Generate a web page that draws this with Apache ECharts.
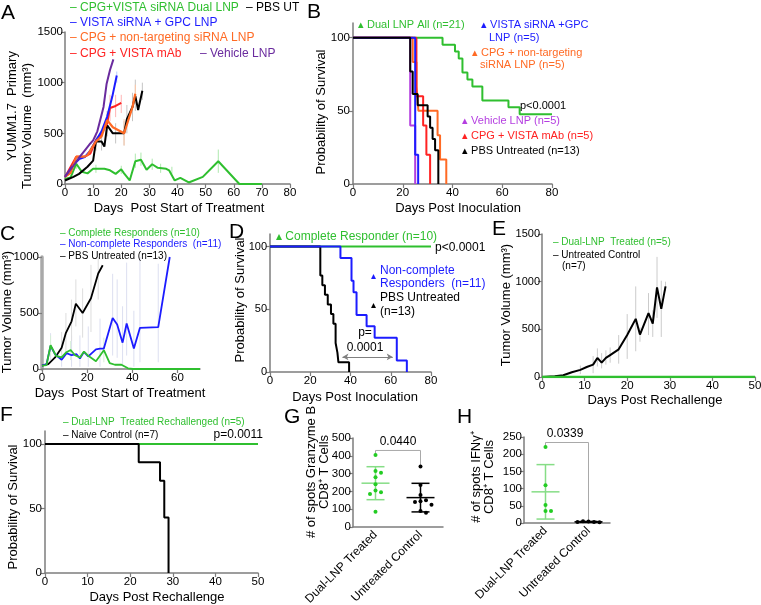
<!DOCTYPE html>
<html><head><meta charset="utf-8">
<script src="https://cdn.jsdelivr.net/npm/echarts@6/dist/echarts.min.js"></script>
<style>html,body{margin:0;padding:0;background:#fff}#c{width:761px;height:605px}</style>
</head><body><div id="c"></div>
<script>
// ---------------- DATA ----------------
// Panel A: tumour volume (mm3) vs days post start of treatment
const aGreenDays  = [0,2,4,6,8,10,14,16,18,20,21,23,25,27,29,31,33,36,37,39,41,44,49,54.5,62,70];
const aGreenVals  = [50,65,200,120,105,150,150,135,100,145,105,35,225,240,140,195,160,150,135,35,60,15,70,225,0,0];
const aBlackDays  = [0,3,5,8,10,11,13,14,15,17,20,21,22,24,25,26,27.5];
const aBlackVals  = [35,70,100,170,230,420,420,370,580,500,500,500,640,760,870,730,920];
const aOrangeDays = [0,2,4,7,8,11,13,15,17,19,21,24,25];
const aOrangeVals = [70,110,270,270,285,420,470,630,560,530,500,760,890];
const aBlueDays   = [0,3,5,7,9,11,13,15,16.8,18.4];
const aBlueVals   = [70,190,245,265,330,430,520,665,860,1070];
const aRedDays    = [0,4,7,9,11,13,15,16,18,20];
const aRedVals    = [70,270,270,300,430,500,600,750,770,800];
const aPurpleDays = [0,3,5,7,9,10,11.5,12.5,13.7,14.8,16,17.2];
const aPurpleVals = [70,180,260,330,400,430,520,630,760,990,1125,1230];
// error bars [day, low, high]
const aErrGreen  = [[4,150,260],[11,110,190],[20,100,180],[25,160,300],[27,180,310],[31,140,250],[34,110,200],[38,100,170],[54.5,110,340]];
const aErrBlack  = [[11,330,500],[13,330,480],[15,470,690],[18,400,600],[21,380,620],[22,500,780],[24,620,900],[25,720,1030],[27.5,830,1000]];
const aErrRed    = [[16,620,880],[18,660,880],[20,700,880]];
const aErrOrange = [[15,540,720],[21,380,640],[25,800,980]];
const aErrBlue   = [[15,600,720],[18.4,1000,1110]];

// Panel B: survival [day, %]
const bGreen  = [[0,100],[36,95.2],[41,90.5],[42.5,85.7],[44,76.2],[46,71.4],[48,66.7],[52,57.1],[62.5,52.4],[67,47.6],[80,47.6]];
const bBlue   = [[0,100],[25,20],[26.2,0]];
const bPurple = [[0,100],[23,40],[25,0]];
const bRed    = [[0,100],[25.5,60],[28.2,40],[29.5,20],[31,0]];
const bOrange = [[0,100],[24,83.3],[25.5,66.7],[26.3,50],[34,33.3],[35,16.7],[37.5,0]];
const bBlack  = [[0,100],[23,76.9],[24,61.5],[26,53.8],[30,46.2],[31,38.5],[32,30.8],[33,23.1],[34.3,0]];

// Panel C
const cGreenDays = [0,2,3.8,6.2,8.7,10.6,12.7,14.6,16.8,18.6,20.5,23.9,27.4,30,32.3,35.2,38.1,40.3,70];
const cGreenVals = [30,35,212,118,103,147,170,123,103,156,118,70,168,53,38,38,6,0,0];
const cBlueDays  = [0,2,3.8,5.8,8.7,10.9,13.1,15.3,16.8,18.6,20.5,23.9,25.7,27.4,31.3,33.3,35.7,37.5,40.7,43.4,51.5,56.6];
const cBlueVals  = [30,44,206,132,82,141,123,132,94,153,112,176,182,182,456,397,235,406,182,368,373,1000];
const cBlackDays = [0,2.8,5.8,8.7,10.6,13.1,15,18,21.7,24.9,26.9];
const cBlackVals = [30,44,103,190,323,426,582,500,632,853,926];
const cErrBlue  = [[3.8,80,320],[8.7,20,250],[13.1,20,300],[16.8,20,300],[20.5,20,380],[25.7,20,450],[31.3,120,850],[33.3,100,800],[35.7,40,560],[37.5,120,950],[40.7,20,520],[43.4,60,1000],[51.5,60,940]];
const cErrBlack = [[8.7,100,330],[10.6,150,500],[13.1,250,620],[15,380,800],[18,280,720],[21.7,330,930],[24.9,620,1000]];
const cErrGreen = [[3.8,120,300],[12.7,80,250],[27.4,60,280]];

// Panel D: survival
const dGreen = [[0,100],[80,100]];
const dBlue  = [[0,100],[35,90.9],[40.5,72.7],[41.5,63.6],[43,45.5],[48,36.4],[52,27.3],[63,9.1],[68,0]];
const dBlack = [[0,100],[25,76.9],[26,69.2],[27.3,61.5],[28.7,53.8],[30.3,46.2],[31.5,38.5],[32.6,23.1],[33.5,15.4],[34,7.7],[39.3,0]];
const dArrow = [36, 61, 12]; // from day, to day, at %

// Panel E
const eBlackDays = [0,3,5,7,9,10.5,12,13,14,15,16,18,20,22,23,25,26,27,28,29];
const eBlackVals = [0,8,18,50,75,105,130,200,150,200,230,290,440,610,445,670,560,940,715,950];
const eGreenDays = [0,50];
const eGreenVals = [0,0];
const eErr = [[9,30,120],[12,40,220],[13,110,300],[14,90,250],[15,130,280],[16,150,310],[18,140,440],[20,190,660],[22,270,950],[23,370,520],[25,440,880],[26,420,700],[27,620,1260],[28,420,1010],[29,900,1000]];

// Panel F
const fGreen = [[0,100],[50,100]];
const fBlack = [[0,100],[22,85.7],[27,71.4],[28,42.9],[29,0]];

// Panels G, H
const ghCategories = ['Dual-LNP Treated','Untreated Control'];
const gGreen = [405,315,305,280,240,205,195,185,85];
const gBlack = [340,236,180,150,145,140,125,90,80];
const hGreen = [221,110,52,35,35];
const hBlack = [4,3,5,2,3];

// ---------------- STYLE ----------------
const FONT = '"Liberation Sans", Arial, Helvetica, sans-serif';
const AX = '#7d7d7d';
const GREEN='#2fbf2f', BLUE='#1c1cff', ORANGE='#ff6a24', RED='#ff2222', PURPLE='#6a2b9e', VIOLET='#b43ee0', BLACK='#000';

const zip = (d,v)=>d.map((x,i)=>[x,v[i]]);
const mean = a=>a.reduce((s,x)=>s+x,0)/a.length;
const sd = a=>{const m=mean(a);return Math.sqrt(a.reduce((s,x)=>s+(x-m)*(x-m),0)/(a.length-1));};

const grids = [
  {left:65, top:32, width:225, height:152},
  {left:353, top:23, width:199, height:161},
  {left:42, top:257, width:158, height:112},
  {left:270, top:234, width:161, height:138},
  {left:542, top:234, width:213, height:143},
  {left:45, top:431, width:213, height:142},
  {left:353, top:438, width:90, height:89},
  {left:524, top:437, width:86, height:86}
].map(g=>Object.assign(g,{containLabel:false, outerBoundsMode:'none'}));

function ax(type, gi, o){
  const a = {type, gridIndex:gi,
    axisLine:{show:true, onZero:false, lineStyle:{color:AX, width:1.5}},
    axisTick:{show:true, inside:false, length:4, lineStyle:{color:AX, width:1.2}},
    axisLabel:{color:'#000', fontSize:11.5, fontFamily:FONT, margin:3},
    splitLine:{show:false}};
  if(type==='value') a.axisLabel.formatter = v=>String(v);
  if(o){ for(const k in o){ if(typeof o[k]==='object' && !Array.isArray(o[k]) && a[k]) Object.assign(a[k],o[k]); else a[k]=o[k]; } }
  return a;
}
const km = [0,50,100];
const xAxis = [
  ax('value',0,{min:0,max:80,interval:10}),
  ax('value',1,{min:0,max:80,interval:20}),
  ax('value',2,{min:0,max:70,interval:20,axisLabel:{customValues:[0,20,40,60]},axisTick:{customValues:[0,20,40,60]}}),
  ax('value',3,{min:0,max:80,interval:20}),
  ax('value',4,{min:0,max:50,interval:10}),
  ax('value',5,{min:0,max:50,interval:10}),
  ax('category',6,{data:ghCategories,axisTick:{show:false},axisLabel:{rotate:45,interval:0,margin:6,fontSize:12}}),
  ax('category',7,{data:ghCategories,axisTick:{show:false},axisLabel:{rotate:45,interval:0,margin:6,fontSize:12}})
];
const yAxis = [
  ax('value',0,{min:0,max:1500,interval:500,axisLabel:{margin:2}}),
  ax('value',1,{min:0,max:110,axisLabel:{customValues:km},axisTick:{customValues:km}}),
  ax('value',2,{min:0,max:1000,interval:500,axisLine:{lineStyle:{color:'#a9a9a9',width:3.5}}}),
  ax('value',3,{min:0,max:110,axisLabel:{customValues:km,fontSize:11},axisTick:{customValues:km}}),
  ax('value',4,{min:0,max:1500,interval:500,axisLabel:{margin:2,fontSize:11}}),
  ax('value',5,{min:0,max:110,axisLabel:{customValues:km},axisTick:{customValues:km}}),
  ax('value',6,{min:0,max:500,interval:100,axisLabel:{margin:2}}),
  ax('value',7,{min:0,max:250,interval:50,axisLabel:{margin:2}})
];

function line(gi, data, color, w, z){
  return {type:'line', xAxisIndex:gi, yAxisIndex:gi, data, symbol:'none', smooth:false,
    lineStyle:{color, width:w||2}, z:z||3, silent:true};
}
function kmLine(gi, data, color, w, z){ const s=line(gi,data,color,w||2,z); s.step='end'; return s; }
function errBars(gi, data, color){
  return {type:'custom', xAxisIndex:gi, yAxisIndex:gi, data, encode:{x:0,y:[1,2]}, z:1, silent:true,
    renderItem:(p,api)=>{const x=api.value(0); const lo=api.coord([x,api.value(1)]), hi=api.coord([x,api.value(2)]);
      return {type:'line', shape:{x1:lo[0],y1:lo[1],x2:hi[0],y2:hi[1]}, style:{stroke:color,lineWidth:1}};}};
}
function swarm(gi, cat, vals, color, r){
  return {type:'custom', xAxisIndex:gi, yAxisIndex:gi, data:vals.map(v=>[cat,v]), encode:{x:0,y:1}, z:6, silent:true,
    renderItem:(p,api)=>{
      const pts = vals.map(v=>api.coord([cat,v]));
      const step = 2*r+1.5, placed=[], offs=[];
      pts.forEach(pt=>{
        const cands=[0]; for(let j=1;j<10;j++){cands.push(j*step,-j*step);}
        let off=0; for(const c of cands){ if(placed.every(q=>Math.hypot(q[0]-c,q[1]-pt[1])>=step)){off=c;break;} }
        placed.push([off,pt[1]]); offs.push(off);
      });
      const pt=pts[p.dataIndex];
      return {type:'circle', shape:{cx:pt[0]+offs[p.dataIndex], cy:pt[1], r}, style:{fill:color}};
    }};
}
function meanSd(gi, cat, vals, color, hm, hc){
  const m=mean(vals), s=sd(vals);
  return {type:'custom', xAxisIndex:gi, yAxisIndex:gi, data:[[cat,m,s]], encode:{x:0,y:1}, z:5, silent:true,
    renderItem:(p,api)=>{
      const c=api.coord([cat,m]), t=api.coord([cat,m+s]), b=api.coord([cat,Math.max(0,m-s)]);
      const st={stroke:color,lineWidth:1.5};
      return {type:'group', children:[
        {type:'line',shape:{x1:c[0]-hm,y1:c[1],x2:c[0]+hm,y2:c[1]},style:st},
        {type:'line',shape:{x1:t[0],y1:t[1],x2:b[0],y2:b[1]},style:st},
        {type:'line',shape:{x1:t[0]-hc,y1:t[1],x2:t[0]+hc,y2:t[1]},style:st},
        {type:'line',shape:{x1:b[0]-hc,y1:b[1],x2:b[0]+hc,y2:b[1]},style:st}]};
    }};
}
function bracket(gi, g, b, pad, drop){
  const top = Math.max(...g, ...b) + pad;
  return {type:'custom', xAxisIndex:gi, yAxisIndex:gi, data:[[0,top]], encode:{x:0,y:1}, z:4, silent:true,
    renderItem:(p,api)=>{
      const p1=api.coord([0,Math.max(...g)+drop]), p2=api.coord([0,top]), p3=api.coord([1,top]), p4=api.coord([1,Math.max(...b)+drop]);
      return {type:'polyline', shape:{points:[p1,p2,p3,p4]}, style:{stroke:'#a9a9a9',lineWidth:1,fill:null}};
    }};
}

const series = [
  // A
  errBars(0,aErrGreen,'#aee8ae'), errBars(0,aErrBlack,'#c4c4c4'), errBars(0,aErrRed,'#ffb4b4'),
  errBars(0,aErrOrange,'#ffcaa8'), errBars(0,aErrBlue,'#bccbff'),
  line(0,zip(aGreenDays,aGreenVals),GREEN,2),
  line(0,zip(aBlackDays,aBlackVals),BLACK,2),
  line(0,zip(aRedDays,aRedVals),RED,2),
  line(0,zip(aBlueDays,aBlueVals),BLUE,2),
  line(0,zip(aOrangeDays,aOrangeVals),ORANGE,2.2),
  line(0,zip(aPurpleDays,aPurpleVals),PURPLE,2),
  // B
  kmLine(1,bGreen,GREEN), kmLine(1,bOrange,ORANGE), kmLine(1,bRed,RED), kmLine(1,bPurple,VIOLET),
  kmLine(1,bBlue,BLUE), kmLine(1,bBlack,BLACK),
  // C
  errBars(2,cErrBlue,'#dcdff0'), errBars(2,cErrBlack,'#dddddd'), errBars(2,cErrGreen,'#d6efd6'),
  line(2,zip(cBlackDays,cBlackVals),BLACK,1.8),
  line(2,zip(cBlueDays,cBlueVals),BLUE,1.8),
  line(2,zip(cGreenDays,cGreenVals),GREEN,1.8),
  // D
  kmLine(3,dGreen,GREEN), kmLine(3,dBlack,BLACK),
  Object.assign(kmLine(3,dBlue,BLUE),{markLine:{silent:true,symbol:['arrow','arrow'],symbolSize:[5,6],
    label:{show:false}, lineStyle:{color:'#808080',width:1,type:'solid'},
    data:[[{coord:[dArrow[0],dArrow[2]]},{coord:[dArrow[1],dArrow[2]]}]]}}),
  // E
  errBars(4,eErr,'#cbcbcb'),
  line(4,zip(eBlackDays,eBlackVals),BLACK,2),
  line(4,zip(eGreenDays,eGreenVals),GREEN,2.5),
  // F
  kmLine(5,fGreen,GREEN), kmLine(5,fBlack,BLACK),
  // G
  meanSd(6,0,gGreen,'#86dd86',14,9), meanSd(6,1,gBlack,BLACK,14,9),
  swarm(6,0,gGreen,'#22cc22',2), swarm(6,1,gBlack,BLACK,2),
  bracket(6,gGreen,gBlack,25,5),
  // H
  meanSd(7,0,hGreen,'#86dd86',14,9), meanSd(7,1,hBlack,BLACK,14,9),
  swarm(7,0,hGreen,'#22cc22',2), swarm(7,1,hBlack,BLACK,2),
  bracket(7,hGreen,hBlack,13,3)
];

// ---------------- TEXT ----------------
function T(x,y,text,o){ o=o||{};
  const st={text, fill:o.color||'#000', font:(o.size||12)+'px '+FONT,
    textAlign:o.align||'left', textVerticalAlign:'middle', align:o.align||'left', verticalAlign:'middle'};
  return {type:'text', x, y, rotation:o.rot||0, style:st, silent:true, z:10};
}
const R = Math.PI/2;
const TRI = '\u25B4 ';
const graphic = [
  // panel letters
  T(1,13,'A',{size:21}), T(307,12,'B',{size:21}), T(0,234,'C',{size:21}), T(229,232,'D',{size:21}),
  T(492,229,'E',{size:21}), T(0,415,'F',{size:21}), T(284,417,'G',{size:21}), T(457,417,'H',{size:21}),
  // A
  T(70,8,'\u2013 CPG+VISTA siRNA Dual LNP',{color:GREEN}), T(246,8,'\u2013 PBS UT'),
  T(70,23,'\u2013 VISTA siRNA + GPC LNP',{color:BLUE}),
  T(70,38,'\u2013 CPG + non-targeting siRNA LNP',{color:ORANGE}),
  T(70,54,'\u2013 CPG + VISTA mAb',{color:RED}), T(200,54,'\u2013 Vehicle LNP',{color:PURPLE}),
  T(12,106,'YUMM1.7  Primary',{rot:R,align:'center',size:13}),
  T(27,126,'Tumor Volume  (mm\u00B3)',{rot:R,align:'center',size:13}),
  T(179,208,'Days  Post Start of Treatment',{align:'center',size:13}),
  // B
  T(358,25,TRI+'Dual LNP All (n=21)',{color:GREEN,size:11}),
  T(481,25,TRI+'VISTA siRNA +GPC',{color:BLUE,size:11}), T(489,38,'LNP (n=5)',{color:BLUE,size:11}),
  T(472,53,TRI+'CPG + non-targeting',{color:ORANGE,size:11}), T(480,65,'siRNA LNP (n=5)',{color:ORANGE,size:11}),
  T(462,121,TRI+'Vehicle LNP (n=5)',{color:VIOLET,size:11}),
  T(462,136,TRI+'CPG + VISTA mAb (n=5)',{color:RED,size:11}),
  T(462,151,TRI+'PBS Untreated (n=13)',{size:11}),
  T(520,106,'p<0.0001',{size:11}),
  T(321,112,'Probability of Survival',{rot:R,align:'center',size:13}),
  T(458,208,'Days Post Inoculation',{align:'center',size:13}),
  // C
  T(60,233,'\u2013 Complete Responders (n=10)',{color:GREEN,size:10}),
  T(60,244,'\u2013 Non-complete Responders  (n=11)',{color:BLUE,size:10}),
  T(60,256,'\u2013 PBS Untreated (n=13)',{size:10}),
  T(7,312,'Tumor Volume (mm\u00B3)',{rot:R,align:'center',size:13}),
  T(120,393,'Days  Post Start of Treatment',{align:'center',size:13}),
  // D
  T(276,237,TRI+'Complete Responder (n=10)',{color:GREEN,size:12}),
  T(435,248,'p<0.0001',{size:12}),
  T(371,276,'\u25B4',{color:BLUE,size:10}), T(380,271,'Non-complete',{color:BLUE,size:12}),
  T(380,284,'Responders  (n=11)',{color:BLUE,size:12}),
  T(371,305,'\u25B4',{size:10}), T(380,298,'PBS Untreated',{size:12}), T(380,312,'(n=13)',{size:12}),
  T(365,333,'p=',{align:'center',size:12}), T(365,348,'0.0001',{align:'center',size:12}),
  T(240,300,'Probability of Survival',{rot:R,align:'center',size:13}),
  T(355,397,'Days Post Inoculation',{align:'center',size:13}),
  // E
  T(553,242,'\u2013 Dual-LNP  Treated (n=5)',{color:GREEN,size:10}),
  T(553,255,'\u2013 Untreated Control',{size:10}), T(562,266,'(n=7)',{size:10}),
  T(506,305,'Tumor Volume (mm\u00B3)',{rot:R,align:'center',size:13}),
  T(655,400,'Days Post Rechallenge',{align:'center',size:13}),
  // F
  T(63,422,'\u2013 Dual-LNP  Treated Rechallenged (n=5)',{color:GREEN,size:10}),
  T(63,435,'\u2013 Naive Control (n=7)',{size:10}),
  T(263,435,'p=0.0011',{align:'right',size:12}),
  T(13,507,'Probability of Survival',{rot:R,align:'center',size:13}),
  T(157,597,'Days Post Rechallenge',{align:'center',size:13}),
  // G
  T(318,472,'# of spots Granzyme B\nCD8\u207A T Cells',{rot:R,align:'center',size:13}),
  T(398,442,'0.0440',{align:'center',size:12}),
  // H
  T(483,477,'# of spots IFN\u03B3\u207A\nCD8\u207A T Cells',{rot:R,align:'center',size:13}),
  T(565,434,'0.0339',{align:'center',size:12})
];

const chart = echarts.init(document.getElementById('c'));
chart.setOption({animation:false, backgroundColor:'#fff', grid:grids, xAxis, yAxis, series, graphic:{elements:graphic}});
</script></body></html>
